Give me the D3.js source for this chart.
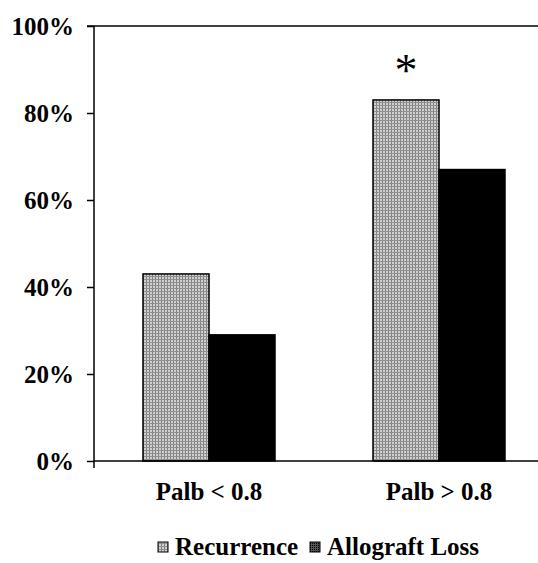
<!DOCTYPE html>
<html>
<head>
<meta charset="utf-8">
<script src="https://cdn.jsdelivr.net/npm/d3@7"></script>
<style>
  body { margin: 0; background: #fff; }
  text { font-family: "Liberation Serif", "Times New Roman", serif; font-weight: bold; fill: #000; }
</style>
</head>
<body>
<div id="graph"></div>
<script>
// data
const categories = ["Palb < 0.8", "Palb > 0.8"];
const seriesNames = ["Recurrence", "Allograft Loss"];
const recurrence = [43, 83];
const allograftLoss = [29, 67];
const yTicks = [0, 20, 40, 60, 80, 100];
const significant = [false, true];

const width = 538;
const height = 563;
const margins = { top: 26, right: -16, bottom: 102, left: 94 };

const svg = d3.select("#graph").append("svg")
    .attr("width", width)
    .attr("height", height);

// stippled fill like the scanned figure
const defs = svg.append("defs");
const pat = defs.append("pattern")
    .attr("id", "stipple")
    .attr("patternUnits", "userSpaceOnUse")
    .attr("width", 3)
    .attr("height", 3);
pat.append("rect").attr("width", 3).attr("height", 3).attr("fill", "#d0d0d0");
pat.append("rect").attr("width", 1).attr("height", 3).attr("fill", "#808080");
pat.append("rect").attr("width", 3).attr("height", 1).attr("fill", "#909090");

const pat2 = defs.append("pattern")
    .attr("id", "stippleDark")
    .attr("patternUnits", "userSpaceOnUse")
    .attr("width", 2)
    .attr("height", 2);
pat2.append("rect").attr("width", 2).attr("height", 2).attr("fill", "#555");
pat2.append("rect").attr("width", 1).attr("height", 1).attr("fill", "#000");

const xScale = d3.scaleBand()
    .domain(categories)
    .range([margins.left, width - margins.right]);

const xInner = d3.scaleBand()
    .domain(seriesNames)
    .range([0, 132]);

const yScale = d3.scaleLinear()
    .domain([0, 100])
    .range([height - margins.bottom, margins.top]);

const fills = { "Recurrence": "url(#stipple)", "Allograft Loss": "#000" };

const rows = categories.map((c, i) => ({
    cat: c,
    values: [
        { name: "Recurrence", value: recurrence[i] },
        { name: "Allograft Loss", value: allograftLoss[i] }
    ]
}));

// bars
const groups = svg.selectAll("g.group")
    .data(rows)
    .enter().append("g")
    .attr("class", "group")
    .attr("transform", d => "translate(" + (xScale(d.cat) + xScale.bandwidth() / 2 - 66) + ",0)");

groups.selectAll("rect")
    .data(d => d.values)
    .enter().append("rect")
    .attr("x", d => xInner(d.name))
    .attr("y", d => yScale(d.value))
    .attr("width", xInner.bandwidth())
    .attr("height", d => yScale(0) - yScale(d.value))
    .attr("fill", d => fills[d.name])
    .attr("stroke", "#000")
    .attr("stroke-width", 1.5);

// significance star
svg.selectAll("text.star")
    .data(rows.filter((d, i) => significant[i]))
    .enter().append("text")
    .attr("class", "star")
    .attr("x", d => xScale(d.cat) + xScale.bandwidth() / 2 - 66 + xInner("Recurrence") + xInner.bandwidth() / 2)
    .attr("y", d => yScale(d.values[0].value) - 14)
    .attr("text-anchor", "middle")
    .style("font-weight", "normal")
    .style("font-size", "46px")
    .text("*");

// top border
svg.append("line")
    .attr("x1", margins.left - 7)
    .attr("x2", width)
    .attr("y1", yScale(100))
    .attr("y2", yScale(100))
    .attr("stroke", "#000")
    .attr("stroke-width", 1.5);

// Y-axis
const yAxis = svg.append("g")
    .attr("transform", "translate(" + margins.left + ",0)")
    .call(d3.axisLeft(yScale).tickValues(yTicks).tickSize(7).tickPadding(13).tickFormat(d => d + "%"));
yAxis.selectAll("path, line").attr("stroke", "#000").attr("stroke-width", 1.5);
yAxis.select("path").attr("d", "M0," + yScale(0) + "V" + yScale(100));
yAxis.selectAll("text")
    .style("font-size", "25px")
    .style("font-family", "Liberation Serif, serif")
    .style("font-weight", "bold");

// X-axis
const xAxis = svg.append("g")
    .attr("transform", "translate(0," + yScale(0) + ")")
    .call(d3.axisBottom(xScale).tickSize(0).tickPadding(21));
xAxis.select("path").attr("stroke", "#000").attr("stroke-width", 1.5)
    .attr("d", "M" + margins.left + ",0H" + width);
xAxis.append("line")
    .attr("x1", margins.left).attr("x2", margins.left)
    .attr("y1", 0).attr("y2", 7)
    .attr("stroke", "#000").attr("stroke-width", 1.5);
xAxis.selectAll("text")
    .style("font-size", "25px")
    .style("font-family", "Liberation Serif, serif")
    .style("font-weight", "bold");

// legend
const legend = svg.append("g").attr("transform", "translate(158,555)");
const legendFills = ["url(#stipple)", "url(#stippleDark)"];
const legendX = [0, 152];
const items = legend.selectAll("g.item")
    .data(seriesNames)
    .enter().append("g")
    .attr("class", "item")
    .attr("transform", (d, i) => "translate(" + legendX[i] + ",0)");
items.append("rect")
    .attr("x", 0).attr("y", -13)
    .attr("width", 10).attr("height", 10)
    .attr("fill", (d, i) => legendFills[i])
    .attr("stroke", "#000").attr("stroke-width", 1);
items.append("text")
    .attr("x", 17).attr("y", 0)
    .style("font-size", "25px")
    .text(d => d);
</script>
</body>
</html>
